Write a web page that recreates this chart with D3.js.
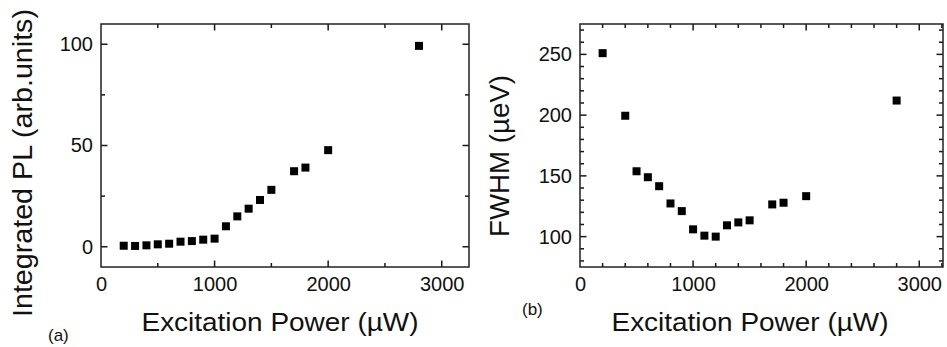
<!DOCTYPE html>
<html>
<head>
<meta charset="utf-8">
<script src="https://cdn.jsdelivr.net/npm/d3@7"></script>
<style>
  html, body { margin: 0; padding: 0; background: #fff; }
  svg { display: block; }
  text { font-family: "Liberation Sans", Arial, Helvetica, sans-serif; fill: #111; }
</style>
</head>
<body>
<svg id="chart" width="947" height="347"></svg>
<script>
// ---- Data ----
const powerA = [200, 300, 400, 500, 600, 700, 800, 900, 1000, 1100, 1200, 1300, 1400, 1500, 1700, 1800, 2000, 2800];
const integratedPL = [0.5, 0.4, 0.7, 1.2, 1.5, 2.5, 2.8, 3.5, 4.0, 10.1, 15.0, 18.8, 23.1, 28.1, 37.3, 39.1, 47.7, 99.2];

const powerB = [200, 400, 500, 600, 700, 800, 900, 1000, 1100, 1200, 1300, 1400, 1500, 1700, 1800, 2000, 2800];
const fwhm = [251, 199.5, 153.8, 148.9, 141.5, 127.3, 121.0, 106.0, 100.8, 100.0, 109.3, 111.7, 113.4, 126.5, 127.9, 133.3, 212.0];

const xTicksMajor = [0, 1000, 2000, 3000];
const yTicksA = [0, 50, 100];
const yTicksB = [100, 150, 200, 250];

const xTitle = "Excitation Power (\u00B5W)";
const yTitleA = "Integrated PL  (arb.units)";
const yTitleB = "FWHM (\u00B5eV)";

// ---- Drawing ----
const svg = d3.select("#chart");

function panel(cfg) {
  const x = d3.scaleLinear().domain(cfg.xDomain).range([cfg.left, cfg.right]);
  const y = d3.scaleLinear().domain(cfg.yDomain).range([cfg.bottom, cfg.top]);
  const g = svg.append("g");

  const minorX = d3.range(cfg.xMinorStep, cfg.xDomain[1], cfg.xMinorStep).filter(v => !xTicksMajor.includes(v));
  const minorY = d3.range(Math.ceil(cfg.yDomain[0] / cfg.yMinorStep) * cfg.yMinorStep, cfg.yDomain[1], cfg.yMinorStep)
    .filter(v => !cfg.yMajor.includes(v));
  const majorX = xTicksMajor.filter(v => v > cfg.xDomain[0] && v < cfg.xDomain[1]);

  const L = 6.5, M = 4;
  const segs = [];
  minorX.forEach(v => { segs.push([x(v), cfg.bottom, x(v), cfg.bottom - M]); segs.push([x(v), cfg.top, x(v), cfg.top + M]); });
  majorX.forEach(v => { segs.push([x(v), cfg.bottom, x(v), cfg.bottom - L]); segs.push([x(v), cfg.top, x(v), cfg.top + L]); });
  minorY.forEach(v => { segs.push([cfg.left, y(v), cfg.left + M, y(v)]); segs.push([cfg.right, y(v), cfg.right - M, y(v)]); });
  cfg.yMajor.forEach(v => { segs.push([cfg.left, y(v), cfg.left + L, y(v)]); segs.push([cfg.right, y(v), cfg.right - L, y(v)]); });

  // inward tick marks
  g.selectAll("rect.tk").data(segs).join("rect").attr("class", "tk")
    .attr("x", s => Math.min(s[0], s[2]) - (s[0] === s[2] ? 0.75 : 0))
    .attr("y", s => Math.min(s[1], s[3]) - (s[1] === s[3] ? 0.75 : 0))
    .attr("width", s => s[0] === s[2] ? 1.5 : Math.abs(s[2] - s[0]))
    .attr("height", s => s[1] === s[3] ? 1.5 : Math.abs(s[3] - s[1]))
    .attr("fill", "#1a1a1a");

  // axis labels via d3.axis
  const styleAxis = sel => {
    sel.select(".domain").remove();
    sel.selectAll("line").remove();
    sel.selectAll("text").style("font-size", "20px").attr("fill", "#111")
      .style("font-family", '"Liberation Sans", Arial, Helvetica, sans-serif');
  };
  g.append("g").attr("transform", `translate(0,${cfg.bottom})`)
    .call(d3.axisBottom(x).tickValues(xTicksMajor).tickSize(0).tickPadding(10).tickFormat(d3.format("d")))
    .call(styleAxis);
  g.append("g").attr("transform", `translate(${cfg.left},0)`)
    .call(d3.axisLeft(y).tickValues(cfg.yMajor).tickSize(0).tickPadding(8).tickFormat(d3.format("d")))
    .call(styleAxis);

  // frame
  g.append("rect")
    .attr("x", cfg.left).attr("y", cfg.top)
    .attr("width", cfg.right - cfg.left).attr("height", cfg.bottom - cfg.top)
    .attr("fill", "none").attr("stroke", "#222").attr("stroke-width", 1.5);

  // markers
  const s = 8;
  g.selectAll("rect.pt").data(cfg.xs.map((v, i) => [v, cfg.ys[i]])).join("rect")
    .attr("class", "pt")
    .attr("x", d => x(d[0]) - s / 2).attr("y", d => y(d[1]) - s / 2)
    .attr("width", s).attr("height", s).attr("fill", "#000");

  // x title
  g.append("text").attr("x", cfg.xTitleX).attr("y", 331)
    .attr("text-anchor", "middle").style("font-size", "26px")
    .attr("textLength", 277).attr("lengthAdjust", "spacingAndGlyphs")
    .text(xTitle);

  // y title
  g.append("text")
    .attr("transform", `translate(${cfg.yTitleX},${cfg.yTitleY}) rotate(-90)`)
    .attr("text-anchor", "middle").style("font-size", "27px")
    .attr("textLength", cfg.yTitleLen).attr("lengthAdjust", "spacingAndGlyphs")
    .text(cfg.yTitle);

  // panel label
  g.append("text").attr("x", cfg.labelX).attr("y", cfg.labelY)
    .style("font-size", "17px").text(cfg.label);
}

panel({
  xs: powerA, ys: integratedPL,
  xDomain: [0, 3240], yDomain: [-10, 110],
  left: 101, right: 469, top: 24, bottom: 267,
  xMinorStep: 500, yMinorStep: 25, yMajor: yTicksA,
  xTitleX: 280, yTitleX: 32, yTitleY: 163, yTitleLen: 308, yTitle: yTitleA,
  label: "(a)", labelX: 48, labelY: 341
});

panel({
  xs: powerB, ys: fwhm,
  xDomain: [0, 3210], yDomain: [75, 275],
  left: 580, right: 943, top: 24, bottom: 267,
  xMinorStep: 200, yMinorStep: 10, yMajor: yTicksB,
  xTitleX: 750, yTitleX: 509, yTitleY: 156, yTitleLen: 162, yTitle: yTitleB,
  label: "(b)", labelX: 522, labelY: 315
});
</script>
</body>
</html>
